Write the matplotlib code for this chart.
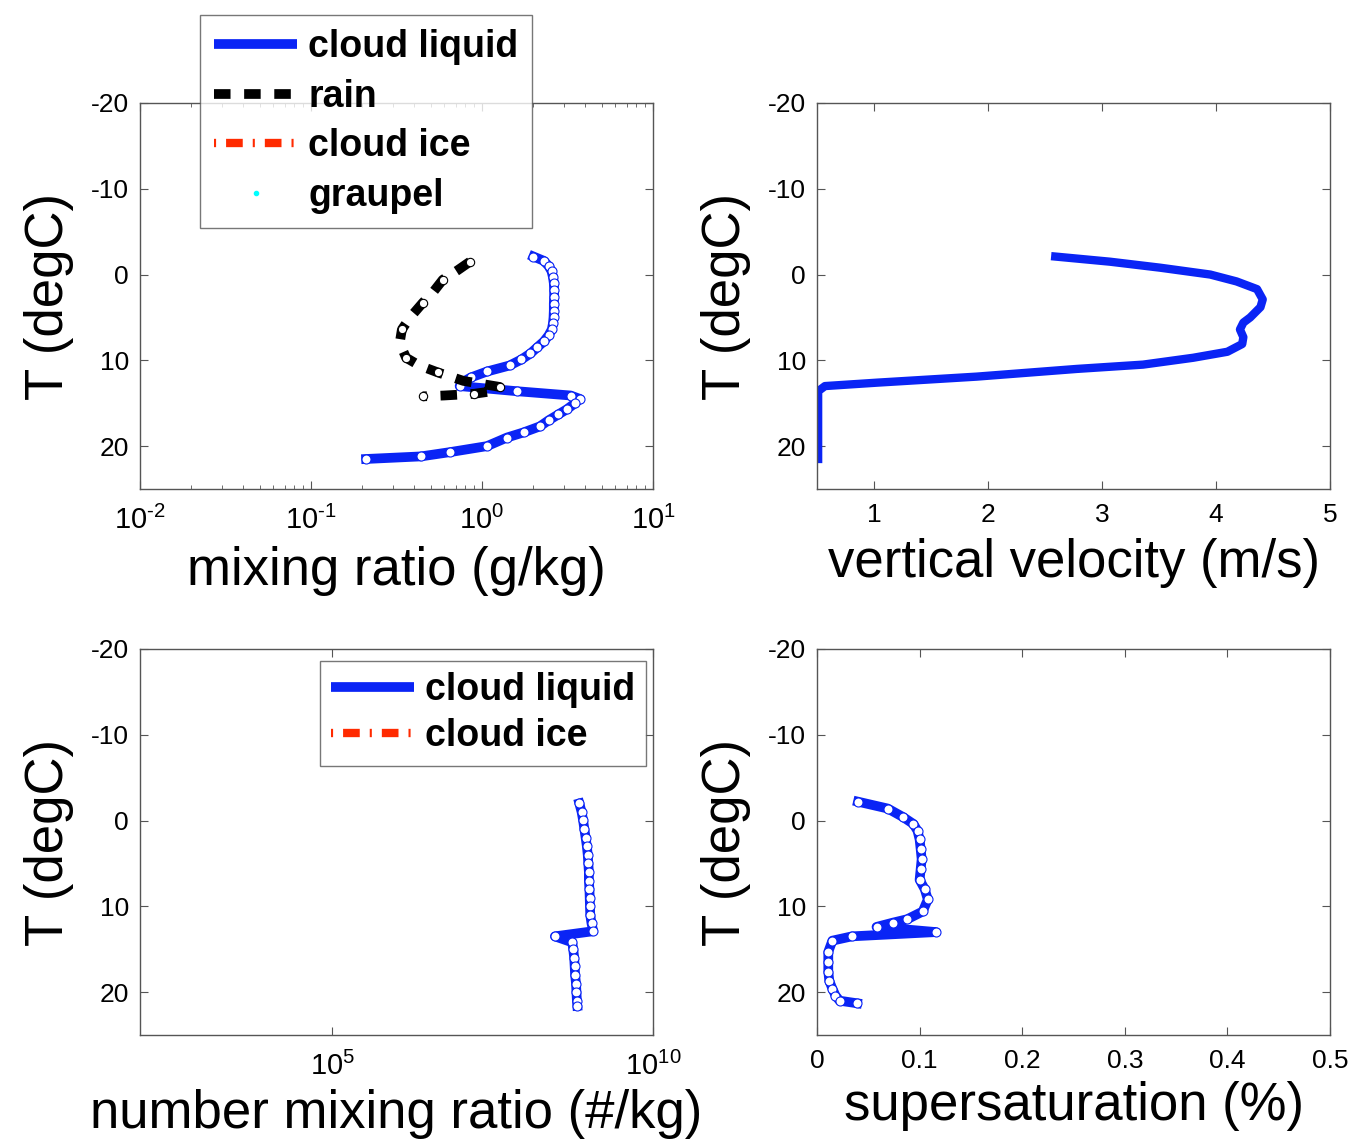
import matplotlib
matplotlib.use("Agg")
import matplotlib.pyplot as plt
from matplotlib.ticker import NullLocator, FixedLocator, FixedFormatter

plt.rcParams['font.family'] = ['Liberation Sans', 'DejaVu Sans']
plt.rcParams['mathtext.fontset'] = 'custom'
plt.rcParams['mathtext.rm'] = 'Liberation Sans'
plt.rcParams['mathtext.it'] = 'Liberation Sans:italic'
plt.rcParams['mathtext.bf'] = 'Liberation Sans:bold'
plt.rcParams['axes.unicode_minus'] = False

# mixing ratio (g/kg) vs temperature
liq_T = [-2.1, -1.6, -1.0, -0.4, 0.3, 1.0, 1.8, 2.6, 3.4, 4.2, 5.0, 5.7, 6.4, 7.1,
         7.8, 8.5, 9.2, 9.9, 10.6, 11.3, 12.0, 12.6, 13.0, 13.6, 14.1, 14.5, 15.0,
         15.7, 16.3, 17.0, 17.7, 18.4, 19.0, 20.0, 20.7, 21.2, 21.5]
liq_q = [2.0, 2.3, 2.45, 2.55, 2.6, 2.63, 2.64, 2.64, 2.63, 2.63, 2.62, 2.6, 2.56, 2.45,
         2.3, 2.1, 1.92, 1.7, 1.45, 1.07, 0.86, 0.76, 0.74, 1.6, 3.3, 3.74, 3.5,
         3.14, 2.8, 2.45, 2.18, 1.75, 1.40, 1.07, 0.65, 0.44, 0.21]
rain_T = [-1.5, -0.5, 0.6, 2.0, 3.3, 5.0, 6.4, 8.0, 9.7, 10.6, 11.4, 12.4, 13.1,
          13.5, 13.9, 14.1, 14.2]
rain_q = [0.85, 0.72, 0.59, 0.52, 0.45, 0.38, 0.34, 0.33, 0.36, 0.43, 0.55, 0.78, 1.27,
          1.25, 0.9, 0.6, 0.45]
ice_T, ice_q = [], []
graupel_T, graupel_q = [], []
q_ticks = [1e-2, 1e-1, 1e0, 1e1]
q_ticklabels = [r'$10^{\text{-2}}$', r'$10^{\text{-1}}$', r'$10^{0}$', r'$10^{1}$']

# vertical velocity (m/s)
w_T = [-2.1, -1.5, -0.8, 0.0, 0.8, 1.7, 2.9, 3.8, 5.0, 5.6, 6.4, 7.3, 8.1, 9.0,
       9.7, 10.5, 11.0, 11.9, 12.6, 13.0, 13.6, 21.5]
w = [2.59, 3.07, 3.51, 3.95, 4.18, 4.36, 4.41, 4.39, 4.30, 4.24, 4.21, 4.24, 4.23, 4.10,
     3.80, 3.36, 2.78, 1.90, 1.03, 0.57, 0.51, 0.51]

# number mixing ratio (#/kg)
nc_T = [-2.0, -1.0, -0.1, 1.0, 2.0, 3.0, 4.0, 5.0, 6.0, 7.0, 8.0, 9.0, 10.0, 11.0,
        12.0, 12.9, 13.5, 14.2, 15.0, 16.0, 17.0, 18.0, 19.0, 20.0, 21.0, 21.6]
nc = [7.1e8, 7.7e8, 8.1e8, 8.5e8, 8.9e8, 9.3e8, 9.6e8, 9.8e8, 1.0e9, 1.0e9, 1.02e9,
      1.03e9, 1.04e9, 1.05e9, 1.1e9, 1.17e9, 2.95e8, 5.5e8, 5.7e8, 5.9e8, 6.0e8, 6.1e8,
      6.3e8, 6.4e8, 6.5e8, 6.6e8]
ni_T, ni = [], []

# supersaturation (%)
ss_T = [-2.2, -1.4, -0.4, 0.4, 1.2, 2.2, 3.3, 4.5, 5.7, 6.9, 8.0, 9.2, 10.6, 11.5,
        11.9, 12.4, 13.0, 13.5, 14.0, 15.3, 16.5, 17.6, 18.7, 19.6, 20.4, 21.0, 21.3]
ss = [0.040, 0.069, 0.084, 0.094, 0.098, 0.100, 0.101, 0.102, 0.101, 0.100, 0.105,
      0.108, 0.103, 0.088, 0.074, 0.058, 0.116, 0.034, 0.015, 0.011, 0.011, 0.011,
      0.012, 0.015, 0.018, 0.022, 0.039]

blue = '#0a24f5'
red = '#ff2a00'
spine_c = '#555555'
mk = dict(marker='o', ms=6.5, mfc='white', mec=blue, mew=0.8)
rain_dash = (1.7, 1.4)
ice_dash = (0.25, 1.2, 2.0, 1.2)

fig = plt.figure(figsize=(13.52, 11.43), dpi=100)
w_ax, h_ax = 513 / 1352, 386 / 1143
ax1 = fig.add_axes([140 / 1352, 1 - 489 / 1143, w_ax, h_ax])
ax2 = fig.add_axes([817 / 1352, 1 - 489 / 1143, w_ax, h_ax])
ax3 = fig.add_axes([140 / 1352, 1 - 1035 / 1143, w_ax, h_ax])
ax4 = fig.add_axes([817 / 1352, 1 - 1035 / 1143, w_ax, h_ax])


def style_legend(leg, keep_marker=None):
    for i, h in enumerate(leg.get_lines()):
        if i != keep_marker:
            h.set_marker('')
        h.set_solid_capstyle('butt')
        h.set_dash_capstyle('butt')
    leg.get_frame().set_linewidth(1)


leg_kw = dict(loc='upper left', borderaxespad=0, prop={'weight': 'bold', 'size': 27},
              handlelength=2.2, handletextpad=0.3,
              fancybox=False, edgecolor=spine_c)

# panel 1: mixing ratio
ax1.plot(liq_q, liq_T, '-', color=blue, lw=7, label='cloud liquid', **mk)
ax1.plot(rain_q, rain_T, '--', color='black', lw=7, dashes=rain_dash, label='rain',
         marker='o', ms=6, mfc='white', mec='black', mew=0.8, markevery=2)
ax1.plot(ice_q, ice_T, '-.', color=red, lw=6, dashes=ice_dash, label='cloud ice')
ax1.plot(graupel_q, graupel_T, '.', color='cyan', ms=6, label='graupel')
ax1.set_xscale('log')
ax1.set_xlim(1e-2, 1e1)
ax1.xaxis.set_major_locator(FixedLocator(q_ticks))
ax1.xaxis.set_major_formatter(FixedFormatter(q_ticklabels))
ax1.set_xlabel('mixing ratio (g/kg)', fontsize=38, labelpad=8)
leg1 = ax1.legend(bbox_to_anchor=(0.117, 1.228), labelspacing=0.36, borderpad=0.38,
                  **leg_kw)
style_legend(leg1, keep_marker=3)

# panel 2: vertical velocity
ax2.plot(w, w_T, '-', color=blue, lw=6)
ax2.set_xlim(0.5, 5)
ax2.set_xticks([1, 2, 3, 4, 5])
ax2.set_xlabel('vertical velocity (m/s)', fontsize=38, labelpad=8)

# panel 3: number mixing ratio
ax3.plot(nc, nc_T, '-', color=blue, lw=7, label='cloud liquid', **mk)
ax3.plot(ni, ni_T, '-.', color=red, lw=6, dashes=ice_dash, label='cloud ice')
ax3.set_xscale('log')
ax3.set_xlim(1e2, 1e10)
ax3.xaxis.set_major_locator(FixedLocator([1e5, 1e10]))
ax3.xaxis.set_minor_locator(NullLocator())
ax3.set_xlabel('number mixing ratio (#/kg)', fontsize=38, labelpad=6)
leg3 = ax3.legend(bbox_to_anchor=(0.351, 0.969), labelspacing=0.27, borderpad=0.3,
                  **leg_kw)
style_legend(leg3)

# panel 4: supersaturation
ax4.plot(ss, ss_T, '-', color=blue, lw=7, **mk)
ax4.set_xlim(0, 0.5)
ax4.set_xticks([0, 0.1, 0.2, 0.3, 0.4, 0.5])
ax4.set_xticklabels(['0', '0.1', '0.2', '0.3', '0.4', '0.5'])
ax4.set_xlabel('supersaturation (%)', fontsize=38, labelpad=6)

for ax in (ax1, ax2, ax3, ax4):
    ax.set_ylim(25, -20)
    ax.set_yticks([-20, -10, 0, 10, 20])
    ax.set_ylabel('T (degC)', fontsize=38, labelpad=12)
    ax.tick_params(which='both', direction='in', top=True, right=True,
                   labelsize=19, color=spine_c)
    ax.tick_params(which='major', length=6)
    ax.tick_params(which='minor', length=3)
    ax.tick_params(axis='y', pad=8)
    ax.tick_params(axis='x', pad=10)
    for s in ax.spines.values():
        s.set_color(spine_c)
        s.set_linewidth(1)
for ax in (ax1, ax3):
    ax.tick_params(axis='x', pad=12, labelsize=21)

fig.savefig('out.png', dpi=100)
